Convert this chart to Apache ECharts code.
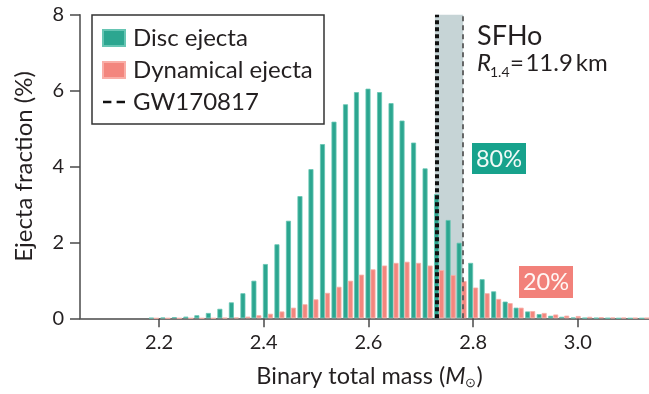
<!DOCTYPE html>
<html><head><meta charset="utf-8">
<script src="https://cdn.jsdelivr.net/npm/echarts@6/dist/echarts.min.js"></script>
<style>html,body{margin:0;padding:0;background:#fff}#c{width:649px;height:394px}</style>
</head><body><div id="c"></div>
<script>
// Bin centres (binary total mass, M_sun)
const masses = [2.190, 2.212, 2.234, 2.256, 2.277, 2.299, 2.321, 2.343, 2.365, 2.386,
  2.408, 2.430, 2.452, 2.474, 2.495, 2.517, 2.539, 2.561, 2.582, 2.604,
  2.626, 2.648, 2.669, 2.691, 2.713, 2.735, 2.757, 2.778, 2.800, 2.822,
  2.844, 2.866, 2.887, 2.909, 2.931, 2.953, 2.974, 2.996, 3.018, 3.040,
  3.062, 3.083, 3.105, 3.127];
// Disc ejecta fraction (%)
const discEjecta = [0.01, 0.02, 0.03, 0.045, 0.08, 0.14, 0.25, 0.42, 0.66, 0.99,
  1.43, 1.95, 2.57, 3.22, 3.93, 4.59, 5.18, 5.64, 5.96, 6.05,
  5.96, 5.67, 5.21, 4.63, 3.95, 3.27, 2.59, 1.99, 1.46, 1.03,
  0.71, 0.44, 0.28, 0.18, 0.11, 0.066, 0.04, 0.02, 0.01, 0.01,
  0.005, 0, 0, 0];
// Dynamical ejecta fraction (%)
const dynamicalEjecta = [0, 0, 0, 0, 0, 0, 0.01, 0.02, 0.044, 0.08,
  0.12, 0.18, 0.28, 0.37, 0.50, 0.67, 0.83, 0.99, 1.15, 1.29,
  1.39, 1.46, 1.49, 1.46, 1.39, 1.27, 1.14, 0.98, 0.81, 0.66,
  0.51, 0.40, 0.28, 0.19, 0.14, 0.10, 0.07, 0.06, 0.04, 0.03,
  0.02, 0.015, 0.01, 0.01];
const xTicks = [2.2, 2.4, 2.6, 2.8, 3.0];
const gwBand = [2.727, 2.781];
const gwLine = 2.733;
const seriesNames = ['Disc ejecta', 'Dynamical ejecta', 'GW170817'];

const FONT = 'Lato, "Noto Sans", sans-serif';
const TEXT = '#231f20';
const AX = '#4a4a4a';
const TEAL = '#2ca690', TEAL_EDGE = '#66c5b3';
const PINK = '#f3867e', PINK_EDGE = '#f9aea7';

const chart = echarts.init(document.getElementById('c'), null, {renderer: 'canvas'});
const option = {
  animation: false,
  textStyle: {fontFamily: FONT},
  grid: {left: 80, right: 0, top: 14.7, bottom: 75.7, outerBoundsMode: 'none', containLabel: false},
  legend: {
    data: [
      {name: seriesNames[0], icon: 'rect'},
      {name: seriesNames[1], icon: 'rect'},
      {name: seriesNames[2], icon: 'path://M0,0h8v2.2h-8z M13,0h8v2.2h-8z'}
    ],
    orient: 'vertical', left: 102, top: 26,
    itemWidth: 22, itemHeight: 16, itemGap: 8, padding: 0, symbolKeepAspect: true,
    textStyle: {fontSize: 24, color: TEXT, fontFamily: FONT, padding: [0, 0, 0, 3]}
  },
  xAxis: {
    type: 'value', min: 2.049, max: 3.136,
    axisLine: {show: true, onZero: false, lineStyle: {color: AX, width: 1.5}},
    axisTick: {show: true, customValues: xTicks, length: 9, lineStyle: {color: AX, width: 1.5}},
    axisLabel: {customValues: xTicks, formatter: v => v.toFixed(1), fontSize: 20, color: TEXT, margin: 14, fontFamily: FONT},
    splitLine: {show: false},
    name: 'Binary total mass ({i|M}{s|⊙})', nameLocation: 'middle', nameGap: 46,
    nameTextStyle: {fontSize: 23.5, color: TEXT, fontFamily: FONT, padding: [0, 0, 0, 10],
      rich: {i: {fontSize: 23.5, fontStyle: 'italic', color: TEXT, fontFamily: FONT},
             s: {fontSize: 13, color: TEXT, fontFamily: FONT, padding: [12, 0, 0, 0]}}}
  },
  yAxis: {
    type: 'value', min: 0, max: 8, interval: 2,
    axisLine: {show: true, lineStyle: {color: AX, width: 1.5}},
    axisTick: {show: true, length: 10, lineStyle: {color: AX, width: 1.5}},
    axisLabel: {fontSize: 20, color: TEXT, margin: 16, fontFamily: FONT},
    splitLine: {show: false},
    name: 'Ejecta fraction (%)', nameLocation: 'middle', nameGap: 44,
    nameTextStyle: {fontSize: 24, color: TEXT, fontFamily: FONT}
  },
  series: [
    {
      name: seriesNames[0], type: 'bar', z: 2, barWidth: 5, barGap: '0%',
      itemStyle: {color: TEAL, borderColor: TEAL_EDGE, borderWidth: 0.8},
      data: masses.map((m, i) => [m, discEjecta[i]])
    },
    {
      name: seriesNames[1], type: 'bar', z: 2, barWidth: 5, barGap: '0%',
      itemStyle: {color: PINK, borderColor: PINK_EDGE, borderWidth: 0.8},
      data: masses.map((m, i) => [m, dynamicalEjecta[i]])
    },
    {
      name: 'band', type: 'line', data: [], z: 1, silent: true,
      markArea: {silent: true, itemStyle: {color: '#c6d4d6'},
        data: [[{xAxis: gwBand[0]}, {xAxis: gwBand[1]}]]}
    },
    {
      name: seriesNames[2], type: 'line', data: [], z: 5, symbol: 'none',
      itemStyle: {color: '#111'},
      lineStyle: {color: '#111', width: 1.6, type: [6, 5]},
      markLine: {silent: true, symbol: 'none', label: {show: false},
        data: [
          {xAxis: gwLine, lineStyle: {color: '#111', width: 4, type: [4, 3]}},
          {xAxis: gwBand[1] - 0.002, lineStyle: {color: '#5a5a5a', width: 1.8, type: [5, 4]}}
        ]}
    }
  ],
  graphic: [
    {type: 'rect', z: 10, shape: {x: 92, y: 15, width: 232, height: 109},
     style: {fill: 'none', stroke: '#333', lineWidth: 1.5}},
    {type: 'text', z: 10, style: {x: 477, y: 36, text: 'SFHo', font: '27px ' + FONT, fill: TEXT, verticalAlign: 'middle'}},
    {type: 'text', z: 10, style: {x: 477, y: 63, text: 'R', font: 'italic 24px ' + FONT, fill: TEXT, verticalAlign: 'middle'}},
    {type: 'text', z: 10, style: {x: 490, y: 72, text: '1.4', font: '14px ' + FONT, fill: TEXT, verticalAlign: 'middle'}},
    {type: 'text', z: 10, style: {x: 510, y: 63, text: '=\u200a11.9\u2009km', font: '24px ' + FONT, fill: TEXT, verticalAlign: 'middle'}},
    {type: 'rect', z: 10, shape: {x: 472, y: 143, width: 54, height: 31}, style: {fill: '#17a28c'}},
    {type: 'text', z: 11, style: {x: 499, y: 159, text: '80%', font: '23.5px ' + FONT, fill: '#f2faf7', align: 'center', verticalAlign: 'middle'}},
    {type: 'rect', z: 10, shape: {x: 519, y: 266, width: 54, height: 32}, style: {fill: '#f2817a'}},
    {type: 'text', z: 11, style: {x: 546, y: 282, text: '20%', font: '23.5px ' + FONT, fill: '#fff6f4', align: 'center', verticalAlign: 'middle'}}
  ]
};
chart.setOption(option);
</script>
</body></html>
